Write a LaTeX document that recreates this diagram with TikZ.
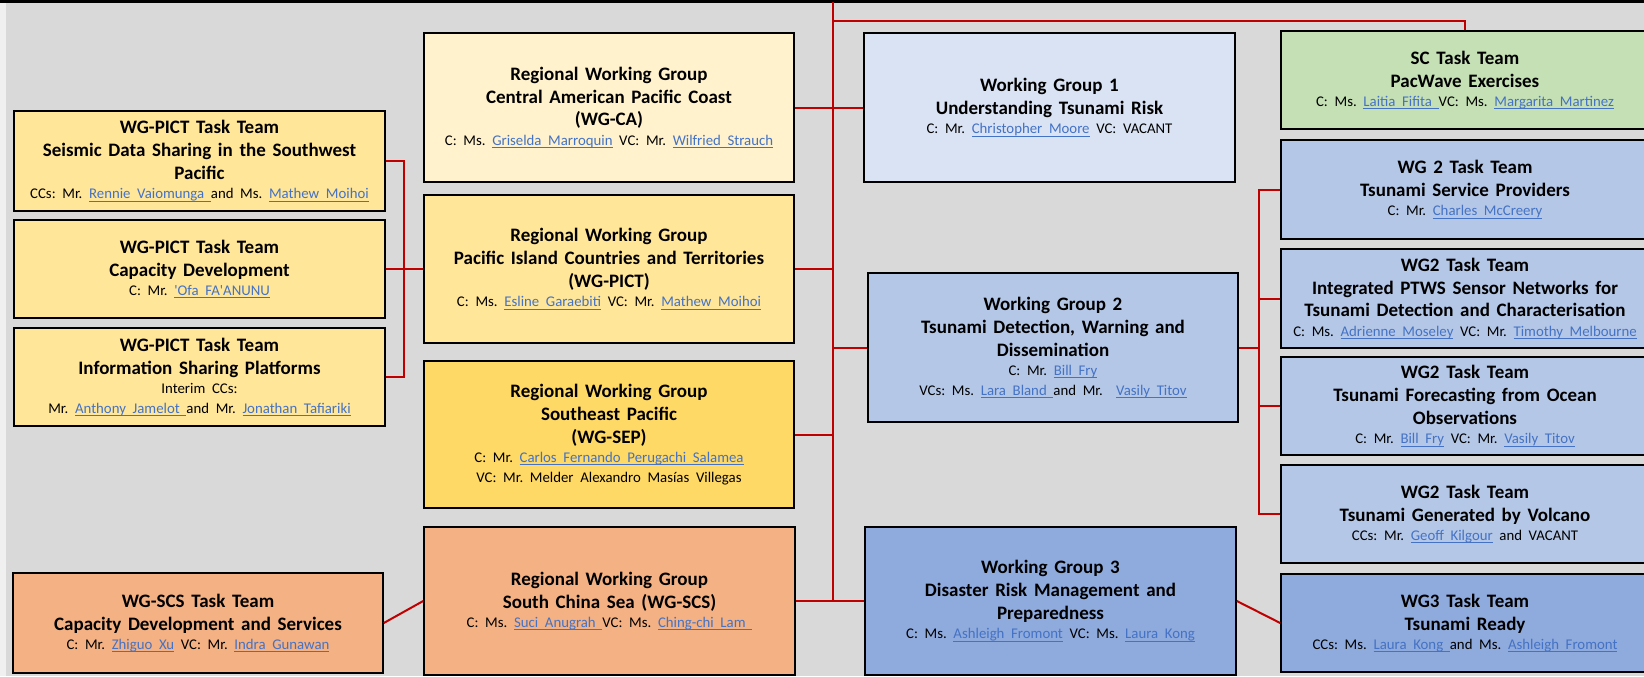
\documentclass[tikz,border=0pt]{standalone}
\usepackage{fontspec}
\setmainfont{Carlito}[WordSpace=0.85]
\definecolor{bgc}{HTML}{D9D9D9}
\definecolor{ylA}{HTML}{FFF2CC}
\definecolor{ylB}{HTML}{FFE699}
\definecolor{ylC}{HTML}{FFD966}
\definecolor{org}{HTML}{F4B183}
\definecolor{blA}{HTML}{DAE3F3}
\definecolor{blB}{HTML}{B4C7E7}
\definecolor{blC}{HTML}{8FAADC}
\definecolor{grn}{HTML}{C5E0B4}
\definecolor{redl}{HTML}{C00000}
\definecolor{lnkc}{HTML}{4472C4}
\newcommand\lnk[1]{\textcolor{lnkc}{\setbox0\hbox{#1}\rlap{\rule[-1.3pt]{\wd0}{0.45pt}}\box0}}
\newcommand\hd{\frenchspacing\bfseries\fontsize{9.5}{11.4}\selectfont}
\newcommand\sm{\frenchspacing\mdseries\fontsize{7.4}{9.7}\selectfont}
\tikzset{
  box/.style 2 args={draw=black, line width=0.8pt, inner sep=0pt, minimum width=#1, minimum height=#2, text width=182pt, align=center},
  con/.style={draw=redl, line width=1pt}
}
\begin{document}
\frenchspacing
\begin{tikzpicture}[x=0.5pt,y=-0.5pt]
\useasboundingbox (0,0) rectangle (1644,676);
\fill[bgc] (0,0) rectangle (1644,676);
\fill[white!94!black] (0,0) rectangle (6,676);
\fill[black] (0,0) rectangle (1644,2.5);

% left column
\node[box={185.5pt}{50pt}, fill=ylB] (L1) at (199.5,161) {{\hd WG-PICT Task Team\\Seismic Data Sharing in the Southwest\\Pacific\par}{\sm CCs: Mr. \lnk{Rennie Vaiomunga }and Ms. \lnk{Mathew Moihoi}\par}};
\node[box={185.5pt}{49pt}, fill=ylB] (L2) at (199.5,269) {{\hd WG-PICT Task Team\\Capacity Development\par}{\sm C: Mr. \lnk{\textquotesingle Ofa FA\textquotesingle ANUNU}\par}};
\node[box={185.5pt}{49pt}, fill=ylB] (L3) at (199.5,377) {{\hd WG-PICT Task Team\\Information Sharing Platforms\par}{\sm Interim CCs:\\Mr. \lnk{Anthony Jamelot }and Mr. \lnk{Jonathan Tafiariki}\par}};
\node[box={185pt}{50pt}, fill=org] (L4) at (198,623) {{\hd WG-SCS Task Team\\Capacity Development and Services\par}{\sm C: Mr. \lnk{Zhiguo Xu} VC: Mr. \lnk{Indra Gunawan}\par}};

% middle column
\node[box={185pt}{74.5pt}, fill=ylA] (M1) at (609,107.5) {{\hd Regional Working Group\\Central American Pacific Coast\\(WG-CA)\par}{\sm C: Ms. \lnk{Griselda Marroquin} VC: Mr. \lnk{Wilfried Strauch}\par}};
\node[box={185pt}{74pt}, fill=ylB] (M2) at (609,269) {{\hd Regional Working Group\\Pacific Island Countries and Territories\\(WG-PICT)\par}{\sm C: Ms. \lnk{Esline Garaebiti} VC: Mr. \lnk{Mathew Moihoi}\par}};
\node[box={185pt}{73.5pt}, fill=ylC] (M3) at (609,434.5) {{\hd Regional Working Group\\Southeast Pacific\\(WG-SEP)\par}{\sm C: Mr. \lnk{Carlos Fernando Perugachi Salamea}\\VC: Mr. Melder Alexandro Masías Villegas\par}};
\node[box={185.5pt}{74pt}, fill=org] (M4) at (609.5,601) {{\hd Regional Working Group\\South China Sea (WG-SCS)\par}{\sm C: Ms. \lnk{Suci Anugrah }VC: Ms. \lnk{Ching-chi Lam }\par}};

% working groups
\node[box={185.5pt}{74.5pt}, fill=blA] (W1) at (1049.5,107.5) {{\hd Working Group 1\\Understanding Tsunami Risk\par}{\sm C: Mr. \lnk{Christopher Moore} VC: VACANT\par}};
\node[box={185pt}{74.5pt}, fill=blB] (W2) at (1053,347.5) {{\hd Working Group 2\\Tsunami Detection, Warning and\\Dissemination\par}{\sm C: Mr. \lnk{Bill Fry}\\VCs: Ms. \lnk{Lara Bland }and Mr.\ \ \lnk{Vasily Titov}\par}};
\node[box={185.5pt}{74pt}, fill=blC] (W3) at (1050.5,601) {{\hd Working Group 3\\Disaster Risk Management and\\Preparedness\par}{\sm C: Ms. \lnk{Ashleigh Fromont} VC: Ms. \lnk{Laura Kong}\par}};

% right column
\node[box={184pt}{49pt}, fill=grn] (R1) at (1465,80) {{\hd SC Task Team\\PacWave Exercises\par}{\sm C: Ms. \lnk{Laitia Fifita }VC: Ms. \lnk{Margarita Martinez}\par}};
\node[box={184pt}{49.5pt}, fill=blB] (R2) at (1465,189.5) {{\hd WG 2 Task Team\\Tsunami Service Providers\par}{\sm C: Mr. \lnk{Charles McCreery}\par}};
\node[box={184pt}{49.5pt}, fill=blB] (R3) at (1465,298.5) {{\hd WG2 Task Team\\Integrated PTWS Sensor Networks for\\Tsunami Detection and Characterisation\par}{\sm C: Ms. \lnk{Adrienne Moseley} VC: Mr. \lnk{Timothy Melbourne}\par}};
\node[box={184pt}{49pt}, fill=blB] (R4) at (1465,406) {{\hd WG2 Task Team\\Tsunami Forecasting from Ocean\\Observations\par}{\sm C: Mr. \lnk{Bill Fry} VC: Mr. \lnk{Vasily Titov}\par}};
\node[box={184pt}{49pt}, fill=blB] (R5) at (1465,514) {{\hd WG2 Task Team\\Tsunami Generated by Volcano\par}{\sm CCs: Mr. \lnk{Geoff Kilgour} and VACANT\par}};
\node[box={184pt}{49pt}, fill=blC] (R6) at (1465,623) {{\hd WG3 Task Team\\Tsunami Ready\par}{\sm CCs: Ms. \lnk{Laura Kong }and Ms. \lnk{Ashleigh Fromont}\par}\vspace*{9pt}};

% connectors
\coordinate (tt) at (833,2);
\coordinate (tb) at (833,601);
\coordinate (tj) at (833,21);
\coordinate (lb) at (404,0);
\coordinate (rb) at (1259,0);
\draw[con] (tt) -- (tb);
\draw[con] (M1.east) -- (M1.east -| tt);
\draw[con] (W1.west) -- (W1.west -| tt);
\draw[con] (M2.east) -- (M2.east -| tt);
\draw[con] (M3.east) -- (M3.east -| tt);
\draw[con] (W2.west) -- (W2.west -| tt);
\draw[con] (M4.east) -- (W3.west);
\draw[con] (tj) -| (R1.north);
\draw[con] (L1.east) -- (L1.east -| lb) -- (L3.east -| lb) -- (L3.east);
\draw[con] (L2.east) -- (M2.west);
\draw[con] (L4.east) -- (M4.west);
\draw[con] (W3.east) -- (R6.west);
\draw[con] (W2.east) -- (W2.east -| rb);
\draw[con] (R2.west) -- (R2.west -| rb) -- (R5.west -| rb) -- (R5.west);
\draw[con] (R3.west) -- (R3.west -| rb);
\draw[con] (R4.west) -- (R4.west -| rb);
\end{tikzpicture}
\end{document}
